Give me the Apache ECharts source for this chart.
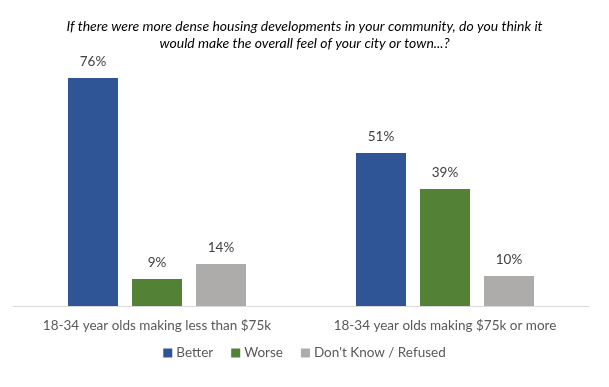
<!DOCTYPE html>
<html><head><meta charset="utf-8">
<script src="https://cdn.jsdelivr.net/npm/echarts@6/dist/echarts.min.js"></script>
<style>html,body{margin:0;padding:0;background:#fff}#c{width:609px;height:387px}</style>
</head><body><div id="c"></div>
<script>
const titleText = "If there were more dense housing developments in your community, do you think it\nwould make the overall feel of your city or town...?";
const categories = ["18-34 year olds making less than $75k", "18-34 year olds making $75k or more"];
const seriesNames = ["Better", "Worse", "Don't Know / Refused"];
const better = [76, 51];
const worse = [9, 39];
const dontKnow = [14, 10];
const colors = ["#2F5597", "#538135", "#AEABAB"];
const values = [better, worse, dontKnow];
const font = "Lato, 'Open Sans', sans-serif";

const chart = echarts.init(document.getElementById('c'), null, {renderer: 'canvas'});
chart.setOption({
  animation: false,
  backgroundColor: '#fff',
  title: {
    text: titleText, left: 'center', top: 13,
    textStyle: {fontFamily: font, fontStyle: 'italic', fontWeight: 'normal', fontSize: 14, color: '#000', lineHeight: 17}
  },
  legend: {
    data: seriesNames, bottom: 22, left: 'center', itemWidth: 9, itemHeight: 9, itemGap: 18,
    icon: 'rect',
    textStyle: {fontFamily: font, fontSize: 13.5, color: '#595959', padding: [0,0,0,-1]}
  },
  grid: {left: 13, right: 20, top: 6, bottom: 81},
  xAxis: {
    type: 'category', data: categories,
    axisLine: {lineStyle: {color: '#D9D9D9', width: 1}},
    axisTick: {show: false},
    axisLabel: {interval: 0, fontFamily: font, fontSize: 13.5, color: '#595959', margin: 13}
  },
  yAxis: {type: 'value', min: 0, max: 100, show: false, splitLine: {show: false}},
  series: seriesNames.map((n, i) => ({
    name: n, type: 'bar', data: values[i], barWidth: 50, barGap: '28%',
    itemStyle: {color: colors[i]},
    label: {show: true, position: 'top', distance: 9, formatter: '{c}%', fontFamily: font, fontSize: 13.5, color: '#404040'}
  }))
});
</script></body></html>
